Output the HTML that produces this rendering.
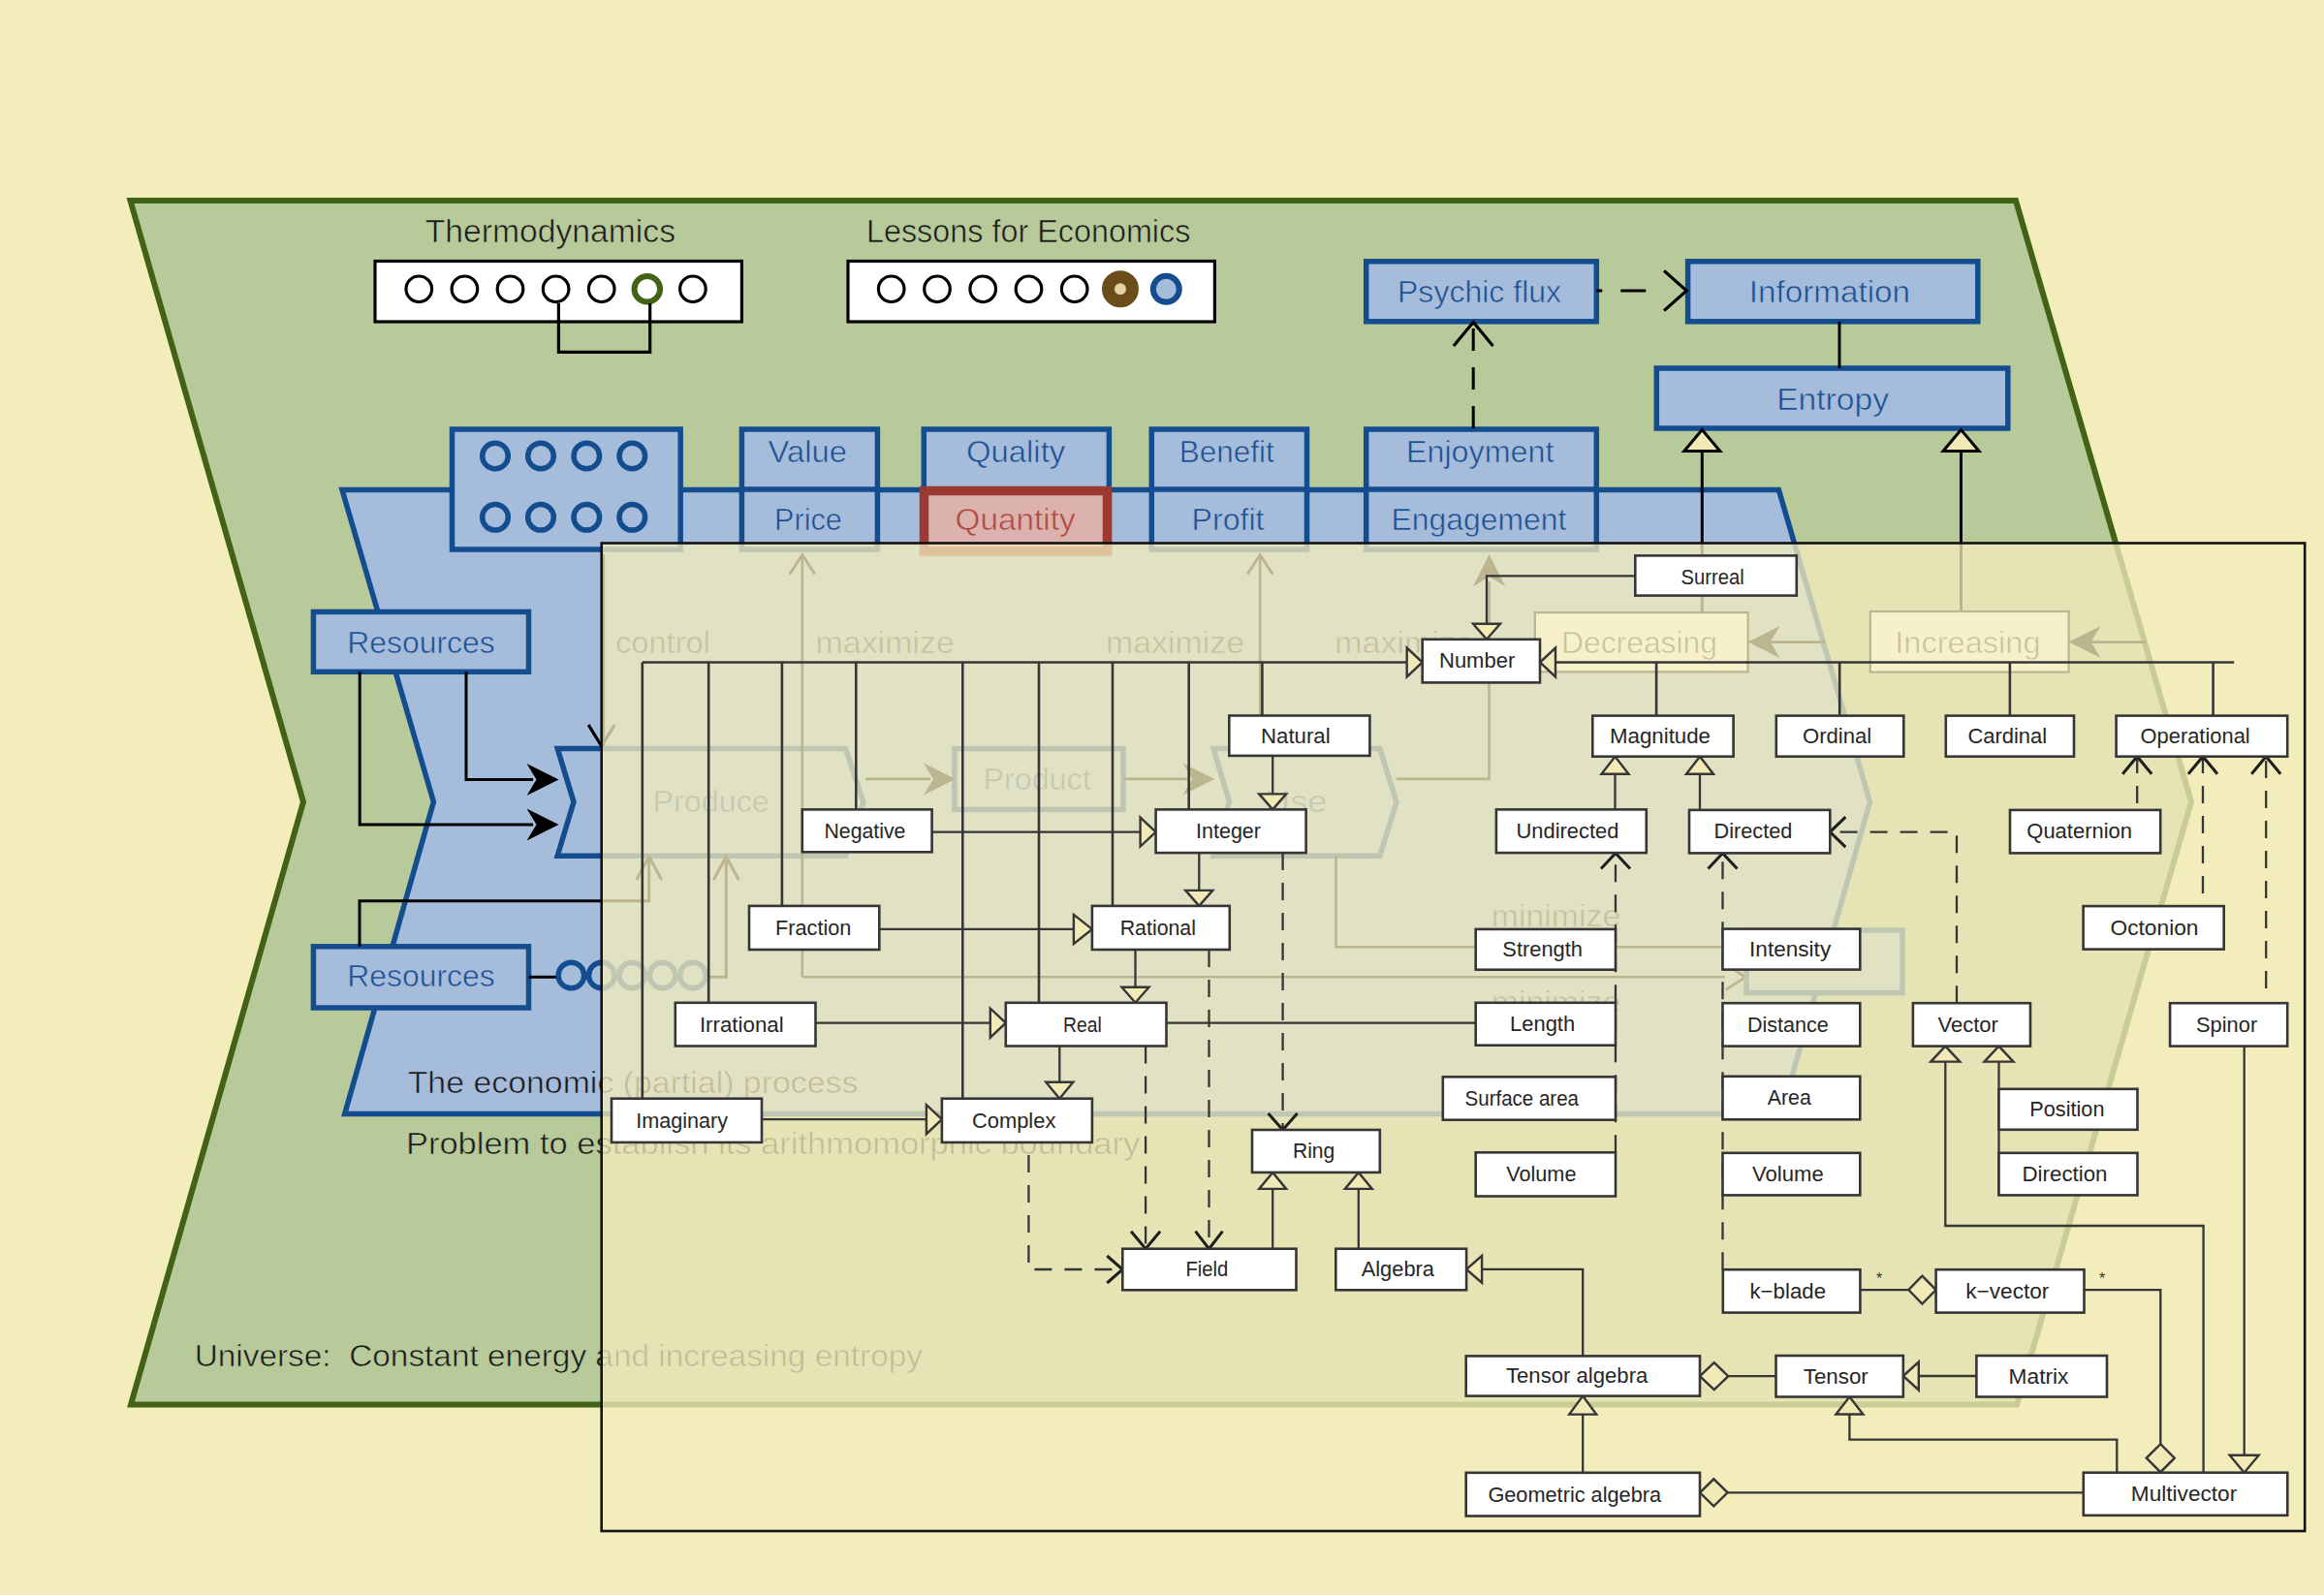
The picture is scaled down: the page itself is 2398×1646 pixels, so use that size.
<!DOCTYPE html><html><head><meta charset="utf-8"><style>html,body{margin:0;padding:0;background:#f3ecbb;overflow:hidden;width:2398px;height:1646px;}svg{display:block;}</style></head><body>
<svg width="2398" height="1646" viewBox="0 0 2398 1646" font-family='"Liberation Sans", sans-serif'>
<g>
<rect x="0" y="0" width="2398" height="1646" fill="#f3ecbb"/>
<polygon points="134.5,207 2080,207 2261,827.6 2081,1449.5 135,1449.5 313,827.6" fill="#b9ca9a" stroke="#426316" stroke-width="6" stroke-linejoin="miter"/>
<text x="438.7" y="249.7" font-size="33.5" fill="#1a1a1a" stroke="#b9ca9a" stroke-width="0.6" textLength="258.3" lengthAdjust="spacingAndGlyphs" >Thermodynamics</text>
<text x="893.9" y="249.7" font-size="33.5" fill="#1a1a1a" stroke="#b9ca9a" stroke-width="0.6" textLength="334.5" lengthAdjust="spacingAndGlyphs" >Lessons for Economics</text>
<rect x="387" y="269.5" width="378.4" height="62.5" fill="#fff" stroke="#000" stroke-width="3.2" />
<rect x="875" y="269.5" width="378.4" height="62.5" fill="#fff" stroke="#000" stroke-width="3.2" />
<circle cx="432.3" cy="298.3" r="13.3" fill="none" stroke="#000" stroke-width="3.2"/>
<circle cx="479.4" cy="298.3" r="13.3" fill="none" stroke="#000" stroke-width="3.2"/>
<circle cx="526.5" cy="298.3" r="13.3" fill="none" stroke="#000" stroke-width="3.2"/>
<circle cx="573.6" cy="298.3" r="13.3" fill="none" stroke="#000" stroke-width="3.2"/>
<circle cx="620.7" cy="298.3" r="13.3" fill="none" stroke="#000" stroke-width="3.2"/>
<circle cx="667.8" cy="298.3" r="13.3" fill="none" stroke="#426316" stroke-width="6"/>
<circle cx="714.9" cy="298.3" r="13.3" fill="none" stroke="#000" stroke-width="3.2"/>
<circle cx="919.7" cy="298.3" r="13.3" fill="none" stroke="#000" stroke-width="3.2"/>
<circle cx="967" cy="298.3" r="13.3" fill="none" stroke="#000" stroke-width="3.2"/>
<circle cx="1014.2" cy="298.3" r="13.3" fill="none" stroke="#000" stroke-width="3.2"/>
<circle cx="1061.5" cy="298.3" r="13.3" fill="none" stroke="#000" stroke-width="3.2"/>
<circle cx="1108.7" cy="298.3" r="13.3" fill="none" stroke="#000" stroke-width="3.2"/>
<circle cx="1156" cy="298.3" r="12.5" fill="#e3d3a3" stroke="#6a4d19" stroke-width="13"/>
<circle cx="1203.3" cy="298.3" r="13.5" fill="#a6bcdb" stroke="#134c8f" stroke-width="6"/>
<path d="M576.4 313 L576.4 363.4 L670.7 363.4 L670.7 313" fill="none" stroke="#000" stroke-width="3.2" />
<polygon points="353,505.5 1835.4,505.5 1929.5,827.6 1838,1149.5 355.7,1149.5 447.4,827.6" fill="#a6bcdb" stroke="#134c8f" stroke-width="5.5" stroke-linejoin="miter"/>
<text x="420.7" y="1127.5" font-size="32" fill="#1a1a1a" stroke="#a6bcdb" stroke-width="0.6" textLength="464.7" lengthAdjust="spacingAndGlyphs" >The economic (partial) process</text>
<text x="418.9" y="1190.5" font-size="32" fill="#1a1a1a" stroke="#b9ca9a" stroke-width="0.6" textLength="757.4" lengthAdjust="spacingAndGlyphs" >Problem to establish its arithmomorphic boundary</text>
<text x="200.7" y="1410.2" font-size="32" fill="#1a1a1a" stroke="#b9ca9a" stroke-width="0.6" textLength="751.3" lengthAdjust="spacingAndGlyphs" >Universe:&#160; Constant energy and increasing entropy</text>
<rect x="466.5" y="443" width="235.7" height="124" fill="#a6bcdb" stroke="#134c8f" stroke-width="5.5" />
<circle cx="511" cy="470.5" r="13.3" fill="none" stroke="#134c8f" stroke-width="5.5"/>
<circle cx="511" cy="533.8" r="13.3" fill="none" stroke="#134c8f" stroke-width="5.5"/>
<circle cx="558" cy="470.5" r="13.3" fill="none" stroke="#134c8f" stroke-width="5.5"/>
<circle cx="558" cy="533.8" r="13.3" fill="none" stroke="#134c8f" stroke-width="5.5"/>
<circle cx="605.3" cy="470.5" r="13.3" fill="none" stroke="#134c8f" stroke-width="5.5"/>
<circle cx="605.3" cy="533.8" r="13.3" fill="none" stroke="#134c8f" stroke-width="5.5"/>
<circle cx="652.3" cy="470.5" r="13.3" fill="none" stroke="#134c8f" stroke-width="5.5"/>
<circle cx="652.3" cy="533.8" r="13.3" fill="none" stroke="#134c8f" stroke-width="5.5"/>
<rect x="765.4" y="443" width="140" height="124" fill="#a6bcdb" stroke="#134c8f" stroke-width="5.5" />
<path d="M765.4 505 L905.4 505" fill="none" stroke="#134c8f" stroke-width="5.5" />
<text x="792.6" y="477" font-size="31.5" fill="#1a4f91" stroke="#a6bcdb" stroke-width="0.6" textLength="81.4" lengthAdjust="spacingAndGlyphs" >Value</text>
<text x="799" y="546.7" font-size="31.5" fill="#1a4f91" stroke="#a6bcdb" stroke-width="0.6" textLength="69.8" lengthAdjust="spacingAndGlyphs" >Price</text>
<rect x="953.3" y="443" width="191.1" height="124" fill="#a6bcdb" stroke="#134c8f" stroke-width="5.5" />
<path d="M953.3 505 L1144.4 505" fill="none" stroke="#134c8f" stroke-width="5.5" />
<text x="997" y="477" font-size="31.5" fill="#1a4f91" stroke="#a6bcdb" stroke-width="0.6" textLength="102.2" lengthAdjust="spacingAndGlyphs" >Quality</text>
<rect x="953.5" y="506.5" width="189" height="62.5" fill="#dcb2ae" stroke="#9b3a31" stroke-width="9.5" />
<text x="985.6" y="546.7" font-size="31.5" fill="#b0473d" stroke="#dcb2ae" stroke-width="0.6" textLength="124" lengthAdjust="spacingAndGlyphs" >Quantity</text>
<rect x="1188.3" y="443" width="160.2" height="124" fill="#a6bcdb" stroke="#134c8f" stroke-width="5.5" />
<path d="M1188.3 505 L1348.5 505" fill="none" stroke="#134c8f" stroke-width="5.5" />
<text x="1216.7" y="477" font-size="31.5" fill="#1a4f91" stroke="#a6bcdb" stroke-width="0.6" textLength="98.2" lengthAdjust="spacingAndGlyphs" >Benefit</text>
<text x="1229.6" y="546.7" font-size="31.5" fill="#1a4f91" stroke="#a6bcdb" stroke-width="0.6" textLength="74.9" lengthAdjust="spacingAndGlyphs" >Profit</text>
<rect x="1409.7" y="443" width="237.6" height="124" fill="#a6bcdb" stroke="#134c8f" stroke-width="5.5" />
<path d="M1409.7 505 L1647.3 505" fill="none" stroke="#134c8f" stroke-width="5.5" />
<text x="1451" y="477" font-size="31.5" fill="#1a4f91" stroke="#a6bcdb" stroke-width="0.6" textLength="152.4" lengthAdjust="spacingAndGlyphs" >Enjoyment</text>
<text x="1435.5" y="546.7" font-size="31.5" fill="#1a4f91" stroke="#a6bcdb" stroke-width="0.6" textLength="180.8" lengthAdjust="spacingAndGlyphs" >Engagement</text>
<rect x="1409.7" y="269.8" width="237.6" height="62" fill="#a6bcdb" stroke="#134c8f" stroke-width="5.5" />
<text x="1442" y="311.7" font-size="31.5" fill="#1a4f91" stroke="#a6bcdb" stroke-width="0.6" textLength="169.1" lengthAdjust="spacingAndGlyphs" >Psychic flux</text>
<rect x="1741.6" y="269.8" width="299.2" height="62" fill="#a6bcdb" stroke="#134c8f" stroke-width="5.5" />
<text x="1804.8" y="311.7" font-size="31.5" fill="#1a4f91" stroke="#a6bcdb" stroke-width="0.6" textLength="166.2" lengthAdjust="spacingAndGlyphs" >Information</text>
<rect x="1709.3" y="380" width="362.5" height="62" fill="#a6bcdb" stroke="#134c8f" stroke-width="5.5" />
<text x="1833.2" y="422.8" font-size="31.5" fill="#1a4f91" stroke="#a6bcdb" stroke-width="0.6" textLength="115.8" lengthAdjust="spacingAndGlyphs" >Entropy</text>
<path d="M1647.3 300 L1738 300" fill="none" stroke="#000" stroke-width="3" stroke-dasharray="6 19 26 200" />
<path d="M1717 279.4 L1740.3 300 L1717 320.6" fill="none" stroke="#000" stroke-width="3.2" />
<path d="M1520.2 442 L1520.2 334" fill="none" stroke="#000" stroke-width="3" stroke-dasharray="23 17" />
<path d="M1499.9 357 L1520.2 332.5 L1540.5 357" fill="none" stroke="#000" stroke-width="3.2" />
<path d="M1898 331.8 L1898 380" fill="none" stroke="#000" stroke-width="3" />
<path d="M1756.3 465.4 L1756.3 640" fill="none" stroke="#000" stroke-width="3" />
<polygon points="1756.3,443.5 1737.8,465.5 1774.8,465.5" fill="#f1e9b6" stroke="#000" stroke-width="3" stroke-linejoin="miter"/>
<path d="M2023.5 465.4 L2023.5 640" fill="none" stroke="#000" stroke-width="3" />
<polygon points="2023.5,443.5 2005,465.5 2042,465.5" fill="#f1e9b6" stroke="#000" stroke-width="3" stroke-linejoin="miter"/>
<rect x="323.4" y="631.4" width="222.1" height="61.9" fill="#a6bcdb" stroke="#134c8f" stroke-width="5.5" />
<text x="358.3" y="674" font-size="31.5" fill="#1a4f91" stroke="#a6bcdb" stroke-width="0.6" textLength="152.3" lengthAdjust="spacingAndGlyphs" >Resources</text>
<rect x="323.4" y="976.8" width="222.1" height="63.2" fill="#a6bcdb" stroke="#134c8f" stroke-width="5.5" />
<text x="358.3" y="1017.6" font-size="31.5" fill="#1a4f91" stroke="#a6bcdb" stroke-width="0.6" textLength="152.3" lengthAdjust="spacingAndGlyphs" >Resources</text>
<polygon points="575.2,772.4 872.5,772.4 891,827.6 872.5,883.2 575.2,883.2 592,827.6" fill="#a6bcdb" stroke="#134c8f" stroke-width="5.5" />
<text x="673.6" y="838" font-size="31.5" fill="#1a4f91" stroke="#a6bcdb" stroke-width="0.6" textLength="120.1" lengthAdjust="spacingAndGlyphs" >Produce</text>
<rect x="984.8" y="772.6" width="174.3" height="62.8" fill="#a6bcdb" stroke="#134c8f" stroke-width="5.5" />
<text x="1014.5" y="814.7" font-size="31.5" fill="#1a4f91" stroke="#a6bcdb" stroke-width="0.6" textLength="111.1" lengthAdjust="spacingAndGlyphs" >Product</text>
<polygon points="1252,772.4 1423.8,772.4 1441,827.6 1423.8,883.2 1252,883.2 1268.5,827.6" fill="#a6bcdb" stroke="#134c8f" stroke-width="5.5" />
<text x="1305" y="838" font-size="31.5" fill="#1a4f91" stroke="#a6bcdb" stroke-width="0.6" textLength="64.5" lengthAdjust="spacingAndGlyphs" >Use</text>
<path d="M371.2 693.3 L371.2 850.9 L550 850.9" fill="none" stroke="#000" stroke-width="3" />
<polygon points="576.5,850.9 543.5,834.4 553.5,850.9 543.5,867.4" fill="#000" stroke="none" stroke-width="0" />
<path d="M481 693.3 L481 804.4 L550 804.4" fill="none" stroke="#000" stroke-width="3" />
<polygon points="576.5,804.4 543.5,787.9 553.5,804.4 543.5,820.9" fill="#000" stroke="none" stroke-width="0" />
<path d="M371 976.8 L371 929.8 L669.7 929.8 L669.7 886" fill="none" stroke="#000" stroke-width="3" />
<path d="M656.7 908 L669.7 884 L682.7 908" fill="none" stroke="#000" stroke-width="3" />
<path d="M545.5 1008.3 L574 1008.3" fill="none" stroke="#000" stroke-width="3" />
<circle cx="589.4" cy="1006.5" r="13.3" fill="none" stroke="#134c8f" stroke-width="5.5"/>
<circle cx="620.8" cy="1006.5" r="13.3" fill="none" stroke="#134c8f" stroke-width="5.5"/>
<circle cx="652.2" cy="1006.5" r="13.3" fill="none" stroke="#134c8f" stroke-width="5.5"/>
<circle cx="683.6" cy="1006.5" r="13.3" fill="none" stroke="#134c8f" stroke-width="5.5"/>
<circle cx="715" cy="1006.5" r="13.3" fill="none" stroke="#134c8f" stroke-width="5.5"/>
<path d="M731 1008.3 L749.3 1008.3 L749.3 886" fill="none" stroke="#000" stroke-width="3" />
<path d="M736.3 908 L749.3 884 L762.3 908" fill="none" stroke="#000" stroke-width="3" />
<path d="M623 572 L623 770" fill="none" stroke="#000" stroke-width="2.2" />
<path d="M607.2 748 L620.7 770 L634.2 748" fill="none" stroke="#000" stroke-width="3.2" />
<path d="M827.8 1008.3 L827.8 575" fill="none" stroke="#000" stroke-width="2.6" />
<path d="M814.8 592.5 L827.8 572.5 L840.8 592.5" fill="none" stroke="#000" stroke-width="2.8" />
<path d="M827.8 1008.3 L1780 1008.3" fill="none" stroke="#000" stroke-width="2.6" />
<path d="M1781 995.3 L1801 1008.3 L1781 1021.3" fill="none" stroke="#000" stroke-width="2.8" />
<path d="M1300.2 772.4 L1300.2 575" fill="none" stroke="#000" stroke-width="2.6" />
<path d="M1287.2 592.5 L1300.2 572.5 L1313.2 592.5" fill="none" stroke="#000" stroke-width="2.8" />
<path d="M893 803.9 L960 803.9" fill="none" stroke="#000" stroke-width="2.6" />
<polygon points="986,803.9 953,787.4 963,803.9 953,820.4" fill="#000" stroke="none" stroke-width="0" />
<path d="M1159.1 803.9 L1225 803.9" fill="none" stroke="#000" stroke-width="2.6" />
<polygon points="1253.3,803.9 1220.3,787.4 1230.3,803.9 1220.3,820.4" fill="#000" stroke="none" stroke-width="0" />
<path d="M1440.5 803.9 L1536.6 803.9 L1536.6 600" fill="none" stroke="#000" stroke-width="2.6" />
<polygon points="1536.6,572 1520.1,605 1536.6,595 1553.1,605" fill="#000" stroke="none" stroke-width="0" />
<path d="M1378.5 883.2 L1378.5 977.3 L1802 977.3" fill="none" stroke="#000" stroke-width="2.6" />
<rect x="1802" y="960" width="161" height="64.6" fill="#a6bcdb" stroke="#134c8f" stroke-width="5.5" />
<text x="1538.8" y="955.7" font-size="31.5" fill="#303030" stroke="#a6bcdb" stroke-width="0.6" textLength="133.4" lengthAdjust="spacingAndGlyphs" >minimize</text>
<text x="1538.8" y="1044.6" font-size="31.5" fill="#303030" stroke="#a6bcdb" stroke-width="0.6" textLength="133.4" lengthAdjust="spacingAndGlyphs" >minimize</text>
<text x="634.9" y="674" font-size="31.5" fill="#303030" stroke="#a6bcdb" stroke-width="0.6" textLength="98.1" lengthAdjust="spacingAndGlyphs" >control</text>
<text x="841.5" y="674" font-size="31.5" fill="#303030" stroke="#a6bcdb" stroke-width="0.6" textLength="143.3" lengthAdjust="spacingAndGlyphs" >maximize</text>
<text x="1141" y="674" font-size="31.5" fill="#303030" stroke="#a6bcdb" stroke-width="0.6" textLength="143" lengthAdjust="spacingAndGlyphs" >maximize</text>
<text x="1377.3" y="674" font-size="31.5" fill="#303030" stroke="#a6bcdb" stroke-width="0.6" textLength="143.3" lengthAdjust="spacingAndGlyphs" >maximize</text>
<rect x="1583.9" y="632.1" width="219.7" height="61.2" fill="#fff" stroke="#000" stroke-width="2.2" />
<text x="1611" y="674" font-size="31.5" fill="#303030" stroke="#fff" stroke-width="0.6" textLength="161" lengthAdjust="spacingAndGlyphs" >Decreasing</text>
<rect x="1929.8" y="631" width="204.8" height="62.6" fill="#fff" stroke="#000" stroke-width="2.2" />
<text x="1955.3" y="674" font-size="31.5" fill="#303030" stroke="#fff" stroke-width="0.6" textLength="150.2" lengthAdjust="spacingAndGlyphs" >Increasing</text>
<path d="M1826 662.6 L1883 662.6" fill="none" stroke="#000" stroke-width="2.6" />
<polygon points="1803.6,662.6 1836.6,646.1 1826.6,662.6 1836.6,679.1" fill="#000" stroke="none" stroke-width="0" />
<path d="M2157 662.6 L2213.6 662.6" fill="none" stroke="#000" stroke-width="2.6" />
<polygon points="2134.6,662.6 2167.6,646.1 2157.6,662.6 2167.6,679.1" fill="#000" stroke="none" stroke-width="0" />
<rect x="620.7" y="560.5" width="1757.5" height="1019.5" fill="#f3ecbb" fill-opacity="0.77" stroke="#111" stroke-width="2.6"/>
<path d="M662.8 683.5 L1452.2 683.5" fill="none" stroke="#363636" stroke-width="2.6" />
<path d="M1605 683.5 L2305.2 683.5" fill="none" stroke="#363636" stroke-width="2.6" />
<path d="M662.8 683.5 L662.8 1133.7" fill="none" stroke="#363636" stroke-width="2.6" />
<path d="M731.2 683.5 L731.2 1034.8" fill="none" stroke="#363636" stroke-width="2.6" />
<path d="M806.9 683.5 L806.9 934.9" fill="none" stroke="#363636" stroke-width="2.6" />
<path d="M883.3 683.5 L883.3 835.4" fill="none" stroke="#363636" stroke-width="2.6" />
<path d="M993.3 683.5 L993.3 1133.7" fill="none" stroke="#363636" stroke-width="2.6" />
<path d="M1072 683.5 L1072 1034.8" fill="none" stroke="#363636" stroke-width="2.6" />
<path d="M1148 683.5 L1148 934.9" fill="none" stroke="#363636" stroke-width="2.6" />
<path d="M1226.7 683.5 L1226.7 835.4" fill="none" stroke="#363636" stroke-width="2.6" />
<path d="M1302.4 683.5 L1302.4 738.5" fill="none" stroke="#363636" stroke-width="2.6" />
<path d="M1709.1 683.5 L1709.1 738.6" fill="none" stroke="#363636" stroke-width="2.6" />
<path d="M1898.2 683.5 L1898.2 738.6" fill="none" stroke="#363636" stroke-width="2.6" />
<path d="M2073.9 683.5 L2073.9 738.6" fill="none" stroke="#363636" stroke-width="2.6" />
<path d="M2283.6 683.5 L2283.6 738.6" fill="none" stroke="#363636" stroke-width="2.6" />
<path d="M1687.3 594.4 L1534 594.4 L1534 644" fill="none" stroke="#363636" stroke-width="2.3" />
<polygon points="1534,659.8 1520,643.8 1548,643.8" fill="#f1e9b6" stroke="#363636" stroke-width="2.4" stroke-linejoin="miter"/>
<polygon points="1467.7,683.5 1451.7,668.5 1451.7,698.5" fill="#f1e9b6" stroke="#363636" stroke-width="2.4" stroke-linejoin="miter"/>
<polygon points="1589,683.5 1605,668.5 1605,698.5" fill="#f1e9b6" stroke="#363636" stroke-width="2.4" stroke-linejoin="miter"/>
<path d="M1313.2 779.9 L1313.2 820" fill="none" stroke="#363636" stroke-width="2.3" />
<polygon points="1313.2,835.4 1299.2,819.4 1327.2,819.4" fill="#f1e9b6" stroke="#363636" stroke-width="2.4" stroke-linejoin="miter"/>
<path d="M961.6 858.6 L1177 858.6" fill="none" stroke="#363636" stroke-width="2.3" />
<polygon points="1192.6,858.6 1176.6,843.6 1176.6,873.6" fill="#f1e9b6" stroke="#363636" stroke-width="2.4" stroke-linejoin="miter"/>
<path d="M1237.3 880.1 L1237.3 919" fill="none" stroke="#363636" stroke-width="2.3" />
<polygon points="1237.3,934.9 1223.3,918.9 1251.3,918.9" fill="#f1e9b6" stroke="#363636" stroke-width="2.4" stroke-linejoin="miter"/>
<path d="M907.3 958.9 L1108 958.9" fill="none" stroke="#363636" stroke-width="2.3" />
<polygon points="1126.9,958.9 1107.9,943.9 1107.9,973.9" fill="#f1e9b6" stroke="#363636" stroke-width="2.4" stroke-linejoin="miter"/>
<path d="M1171.5 980 L1171.5 1019" fill="none" stroke="#363636" stroke-width="2.3" />
<polygon points="1171.5,1034.8 1157.5,1018.8 1185.5,1018.8" fill="#f1e9b6" stroke="#363636" stroke-width="2.4" stroke-linejoin="miter"/>
<path d="M841.5 1055.7 L1021.5 1055.7" fill="none" stroke="#363636" stroke-width="2.3" />
<polygon points="1037.8,1055.7 1021.8,1040.7 1021.8,1070.7" fill="#f1e9b6" stroke="#363636" stroke-width="2.4" stroke-linejoin="miter"/>
<path d="M1093.3 1079.5 L1093.3 1116.4" fill="none" stroke="#363636" stroke-width="2.3" />
<polygon points="1093.3,1133.7 1079.3,1116.7 1107.3,1116.7" fill="#f1e9b6" stroke="#363636" stroke-width="2.4" stroke-linejoin="miter"/>
<path d="M786 1155.2 L956.4 1155.2" fill="none" stroke="#363636" stroke-width="2.3" />
<polygon points="971.9,1155.2 955.9,1140.2 955.9,1170.2" fill="#f1e9b6" stroke="#363636" stroke-width="2.4" stroke-linejoin="miter"/>
<path d="M1203.5 1055.7 L1522.7 1055.7" fill="none" stroke="#363636" stroke-width="2.3" />
<path d="M1313.2 1288.7 L1313.2 1226.7" fill="none" stroke="#363636" stroke-width="2.3" />
<polygon points="1313.2,1209.9 1299.2,1226.9 1327.2,1226.9" fill="#f1e9b6" stroke="#363636" stroke-width="2.4" stroke-linejoin="miter"/>
<path d="M1401.8 1288.7 L1401.8 1226.7" fill="none" stroke="#363636" stroke-width="2.3" />
<polygon points="1401.8,1209.9 1387.8,1226.9 1415.8,1226.9" fill="#f1e9b6" stroke="#363636" stroke-width="2.4" stroke-linejoin="miter"/>
<path d="M1666.5 835.4 L1666.5 798.4" fill="none" stroke="#363636" stroke-width="2.3" />
<polygon points="1666.5,780.7 1652.5,798.7 1680.5,798.7" fill="#f1e9b6" stroke="#363636" stroke-width="2.4" stroke-linejoin="miter"/>
<path d="M1754 835.9 L1754 798.7" fill="none" stroke="#363636" stroke-width="2.3" />
<polygon points="1754,780.7 1740,798.7 1768,798.7" fill="#f1e9b6" stroke="#363636" stroke-width="2.4" stroke-linejoin="miter"/>
<path d="M2007.3 1095.2 L2007.3 1265 L2273.6 1265 L2273.6 1519.7" fill="none" stroke="#363636" stroke-width="2.3" />
<polygon points="2007.3,1079.6 1992.3,1095.6 2022.3,1095.6" fill="#f1e9b6" stroke="#363636" stroke-width="2.4" stroke-linejoin="miter"/>
<path d="M2062.5 1095.2 L2062.5 1233.4" fill="none" stroke="#363636" stroke-width="2.3" />
<polygon points="2062.5,1079.6 2047.5,1095.6 2077.5,1095.6" fill="#f1e9b6" stroke="#363636" stroke-width="2.4" stroke-linejoin="miter"/>
<path d="M2315.7 1079.6 L2315.7 1501" fill="none" stroke="#363636" stroke-width="2.3" />
<polygon points="2315.7,1519.7 2300.7,1501.7 2330.7,1501.7" fill="#f1e9b6" stroke="#363636" stroke-width="2.4" stroke-linejoin="miter"/>
<path d="M1919.4 1331.1 L1969.3 1331.1" fill="none" stroke="#363636" stroke-width="2.3" />
<polygon points="1969.3,1331.1 1983.4,1316.6 1997.6,1331.1 1983.4,1345.6" fill="#f1e9b6" stroke="#363636" stroke-width="2.4" />
<path d="M2150.5 1331.1 L2229.3 1331.1 L2229.3 1489.8" fill="none" stroke="#363636" stroke-width="2.3" />
<polygon points="2214.8,1504.7 2229.3,1490.2 2243.8,1504.7 2229.3,1519.2" fill="#f1e9b6" stroke="#363636" stroke-width="2.4" />
<path d="M1783.3 1420.2 L1832.5 1420.2" fill="none" stroke="#363636" stroke-width="2.3" />
<polygon points="1754,1420.2 1768.7,1406.2 1783.3,1420.2 1768.7,1434.2" fill="#f1e9b6" stroke="#363636" stroke-width="2.4" />
<path d="M1979.9 1420 L2039.4 1420" fill="none" stroke="#363636" stroke-width="2.3" />
<polygon points="1963.8,1420 1979.8,1405.5 1979.8,1434.5" fill="#f1e9b6" stroke="#363636" stroke-width="2.4" stroke-linejoin="miter"/>
<path d="M1908.4 1459.8 L1908.4 1485.6 L2184.3 1485.6 L2184.3 1519.7" fill="none" stroke="#363636" stroke-width="2.3" />
<polygon points="1908.4,1441.5 1894.4,1459.5 1922.4,1459.5" fill="#f1e9b6" stroke="#363636" stroke-width="2.4" stroke-linejoin="miter"/>
<path d="M1782.6 1540.3 L2149.8 1540.3" fill="none" stroke="#363636" stroke-width="2.3" />
<polygon points="1754,1540.3 1768.3,1526.3 1782.6,1540.3 1768.3,1554.3" fill="#f1e9b6" stroke="#363636" stroke-width="2.4" />
<path d="M1633.2 1519.8 L1633.2 1459.5" fill="none" stroke="#363636" stroke-width="2.3" />
<polygon points="1633.2,1440.6 1619.2,1459.6 1647.2,1459.6" fill="#f1e9b6" stroke="#363636" stroke-width="2.4" stroke-linejoin="miter"/>
<path d="M1529.1 1309.9 L1633.2 1309.9 L1633.2 1399.2" fill="none" stroke="#363636" stroke-width="2.3" />
<polygon points="1513.1,1309.9 1529.1,1295.9 1529.1,1323.9" fill="#f1e9b6" stroke="#363636" stroke-width="2.4" stroke-linejoin="miter"/>
<text x="1936" y="1325" font-size="16" fill="#363636">*</text>
<text x="2166" y="1325" font-size="16" fill="#363636">*</text>
<path d="M1323.6 880.1 L1323.6 1164" fill="none" stroke="#363636" stroke-width="2.3" stroke-dasharray="18 13" />
<path d="M1308.6 1149 L1323.6 1166 L1338.6 1149" fill="none" stroke="#1e1e1e" stroke-width="3" />
<path d="M1182.1 1079.5 L1182.1 1286" fill="none" stroke="#363636" stroke-width="2.3" stroke-dasharray="18 13" />
<path d="M1167.1 1270.7 L1182.1 1288.7 L1197.1 1270.7" fill="none" stroke="#1e1e1e" stroke-width="3" />
<path d="M1247.5 980 L1247.5 1286" fill="none" stroke="#363636" stroke-width="2.3" stroke-dasharray="18 13" />
<path d="M1233.5 1270.7 L1247.5 1288.7 L1261.5 1270.7" fill="none" stroke="#1e1e1e" stroke-width="3" />
<path d="M1061.4 1192 L1061.4 1310 L1156 1310" fill="none" stroke="#363636" stroke-width="2.3" stroke-dasharray="18 13" />
<path d="M1142.3 1296 L1158.3 1310 L1142.3 1324" fill="none" stroke="#1e1e1e" stroke-width="3" />
<path d="M1667 1189.3 L1667 883" fill="none" stroke="#363636" stroke-width="2.3" stroke-dasharray="18 13" />
<path d="M1652 896.5 L1667 880.5 L1682 896.5" fill="none" stroke="#1e1e1e" stroke-width="3" />
<path d="M1777.5 1310.2 L1777.5 883" fill="none" stroke="#363636" stroke-width="2.3" stroke-dasharray="18 13" />
<path d="M1762.5 896.5 L1777.5 880.5 L1792.5 896.5" fill="none" stroke="#1e1e1e" stroke-width="3" />
<path d="M2019 1035.2 L2019 858.6 L1891 858.6" fill="none" stroke="#363636" stroke-width="2.3" stroke-dasharray="18 13" />
<path d="M1904.3 843.1 L1888.3 858.6 L1904.3 874.1" fill="none" stroke="#1e1e1e" stroke-width="3" />
<path d="M2205.2 829 L2205.2 783" fill="none" stroke="#363636" stroke-width="2.3" stroke-dasharray="18 13" />
<path d="M2190.2 798.7 L2205.2 780.7 L2220.2 798.7" fill="none" stroke="#1e1e1e" stroke-width="3" />
<path d="M2273 922 L2273 783" fill="none" stroke="#363636" stroke-width="2.3" stroke-dasharray="18 13" />
<path d="M2258 798.7 L2273 780.7 L2288 798.7" fill="none" stroke="#1e1e1e" stroke-width="3" />
<path d="M2338.2 1020 L2338.2 783" fill="none" stroke="#363636" stroke-width="2.3" stroke-dasharray="18 13" />
<path d="M2323.2 798.7 L2338.2 780.7 L2353.2 798.7" fill="none" stroke="#1e1e1e" stroke-width="3" />
<rect x="1687.3" y="573.4" width="166.5" height="41.2" fill="#fff" stroke="#363636" stroke-width="2.6" />
<text x="1734.5" y="603.3" font-size="21.5" fill="#262626" textLength="65.2" lengthAdjust="spacingAndGlyphs" >Surreal</text>
<rect x="1467.7" y="659.8" width="121.3" height="44.6" fill="#fff" stroke="#363636" stroke-width="2.6" />
<text x="1485" y="689.4" font-size="21.5" fill="#262626" textLength="78.2" lengthAdjust="spacingAndGlyphs" >Number</text>
<rect x="1268.3" y="738.5" width="145.1" height="41.4" fill="#fff" stroke="#363636" stroke-width="2.6" />
<text x="1301" y="766.5" font-size="21.5" fill="#262626" textLength="71.6" lengthAdjust="spacingAndGlyphs" >Natural</text>
<rect x="1643.3" y="738.6" width="145.3" height="42.1" fill="#fff" stroke="#363636" stroke-width="2.6" />
<text x="1661" y="767" font-size="21.5" fill="#262626" textLength="104" lengthAdjust="spacingAndGlyphs" >Magnitude</text>
<rect x="1832.8" y="738.6" width="131.5" height="42.1" fill="#fff" stroke="#363636" stroke-width="2.6" />
<text x="1860" y="767" font-size="21.5" fill="#262626" textLength="71.2" lengthAdjust="spacingAndGlyphs" >Ordinal</text>
<rect x="2007.8" y="738.6" width="132.2" height="42.1" fill="#fff" stroke="#363636" stroke-width="2.6" />
<text x="2030.4" y="767" font-size="21.5" fill="#262626" textLength="81.7" lengthAdjust="spacingAndGlyphs" >Cardinal</text>
<rect x="2183.6" y="738.6" width="176.6" height="42.1" fill="#fff" stroke="#363636" stroke-width="2.6" />
<text x="2208.5" y="767" font-size="21.5" fill="#262626" textLength="113.2" lengthAdjust="spacingAndGlyphs" >Operational</text>
<rect x="827.8" y="835.4" width="133.8" height="43.9" fill="#fff" stroke="#363636" stroke-width="2.6" />
<text x="850.5" y="864.6" font-size="21.5" fill="#262626" textLength="83.9" lengthAdjust="spacingAndGlyphs" >Negative</text>
<rect x="1192.6" y="835.4" width="155" height="44.7" fill="#fff" stroke="#363636" stroke-width="2.6" />
<text x="1234" y="865" font-size="21.5" fill="#262626" textLength="67" lengthAdjust="spacingAndGlyphs" >Integer</text>
<rect x="1543.9" y="835.4" width="154.9" height="44.7" fill="#fff" stroke="#363636" stroke-width="2.6" />
<text x="1564.5" y="865" font-size="21.5" fill="#262626" textLength="105.9" lengthAdjust="spacingAndGlyphs" >Undirected</text>
<rect x="1743" y="835.9" width="145.3" height="44.5" fill="#fff" stroke="#363636" stroke-width="2.6" />
<text x="1768.5" y="865.4" font-size="21.5" fill="#262626" textLength="80.8" lengthAdjust="spacingAndGlyphs" >Directed</text>
<rect x="2074" y="835.9" width="155.2" height="44.5" fill="#fff" stroke="#363636" stroke-width="2.6" />
<text x="2091.3" y="865.4" font-size="21.5" fill="#262626" textLength="108.7" lengthAdjust="spacingAndGlyphs" >Quaternion</text>
<rect x="773" y="934.9" width="134.3" height="45.1" fill="#fff" stroke="#363636" stroke-width="2.6" />
<text x="800" y="964.8" font-size="21.5" fill="#262626" textLength="78.4" lengthAdjust="spacingAndGlyphs" >Fraction</text>
<rect x="1126.9" y="934.9" width="141.9" height="45.1" fill="#fff" stroke="#363636" stroke-width="2.6" />
<text x="1155.7" y="964.8" font-size="21.5" fill="#262626" textLength="78.3" lengthAdjust="spacingAndGlyphs" >Rational</text>
<rect x="1522.7" y="958.9" width="144.3" height="41.8" fill="#fff" stroke="#363636" stroke-width="2.6" />
<text x="1550.3" y="987.1" font-size="21.5" fill="#262626" textLength="82.7" lengthAdjust="spacingAndGlyphs" >Strength</text>
<rect x="1777.5" y="958.6" width="141.8" height="42" fill="#fff" stroke="#363636" stroke-width="2.6" />
<text x="1805.1" y="986.9" font-size="21.5" fill="#262626" textLength="84.1" lengthAdjust="spacingAndGlyphs" >Intensity</text>
<rect x="2149.6" y="935.1" width="145.1" height="44.5" fill="#fff" stroke="#363636" stroke-width="2.6" />
<text x="2177.5" y="964.6" font-size="21.5" fill="#262626" textLength="91" lengthAdjust="spacingAndGlyphs" >Octonion</text>
<rect x="696.8" y="1034.8" width="144.7" height="44.7" fill="#fff" stroke="#363636" stroke-width="2.6" />
<text x="721.9" y="1064.5" font-size="21.5" fill="#262626" textLength="86.8" lengthAdjust="spacingAndGlyphs" >Irrational</text>
<rect x="1037.8" y="1034.8" width="165.7" height="44.7" fill="#fff" stroke="#363636" stroke-width="2.6" />
<text x="1097" y="1064.5" font-size="21.5" fill="#262626" textLength="39.7" lengthAdjust="spacingAndGlyphs" >Real</text>
<rect x="1522.7" y="1034.8" width="144.3" height="43.9" fill="#fff" stroke="#363636" stroke-width="2.6" />
<text x="1558" y="1064" font-size="21.5" fill="#262626" textLength="67.2" lengthAdjust="spacingAndGlyphs" >Length</text>
<rect x="1777.5" y="1035.2" width="141.8" height="44.4" fill="#fff" stroke="#363636" stroke-width="2.6" />
<text x="1803" y="1064.7" font-size="21.5" fill="#262626" textLength="83.8" lengthAdjust="spacingAndGlyphs" >Distance</text>
<rect x="1973.9" y="1035.2" width="121.1" height="44.4" fill="#fff" stroke="#363636" stroke-width="2.6" />
<text x="1999.4" y="1064.7" font-size="21.5" fill="#262626" textLength="62.5" lengthAdjust="spacingAndGlyphs" >Vector</text>
<rect x="2239.1" y="1035.2" width="121.1" height="44.4" fill="#fff" stroke="#363636" stroke-width="2.6" />
<text x="2266" y="1064.7" font-size="21.5" fill="#262626" textLength="63.2" lengthAdjust="spacingAndGlyphs" >Spinor</text>
<rect x="1488.8" y="1111.3" width="178.2" height="44.4" fill="#fff" stroke="#363636" stroke-width="2.6" />
<text x="1511.6" y="1140.8" font-size="21.5" fill="#262626" textLength="117.4" lengthAdjust="spacingAndGlyphs" >Surface area</text>
<rect x="1777.5" y="1110.8" width="141.8" height="44.5" fill="#fff" stroke="#363636" stroke-width="2.6" />
<text x="1823.7" y="1140.3" font-size="21.5" fill="#262626" textLength="45.1" lengthAdjust="spacingAndGlyphs" >Area</text>
<rect x="2062.5" y="1123.8" width="143" height="42" fill="#fff" stroke="#363636" stroke-width="2.6" />
<text x="2094.3" y="1152.1" font-size="21.5" fill="#262626" textLength="77.2" lengthAdjust="spacingAndGlyphs" >Position</text>
<rect x="631" y="1133.7" width="155" height="45.2" fill="#fff" stroke="#363636" stroke-width="2.6" />
<text x="656.3" y="1163.6" font-size="21.5" fill="#262626" textLength="94.8" lengthAdjust="spacingAndGlyphs" >Imaginary</text>
<rect x="971.9" y="1133.7" width="155" height="45.2" fill="#fff" stroke="#363636" stroke-width="2.6" />
<text x="1002.9" y="1163.6" font-size="21.5" fill="#262626" textLength="86.5" lengthAdjust="spacingAndGlyphs" >Complex</text>
<rect x="1292" y="1166" width="131.8" height="43.9" fill="#fff" stroke="#363636" stroke-width="2.6" />
<text x="1333.9" y="1195.2" font-size="21.5" fill="#262626" textLength="43.4" lengthAdjust="spacingAndGlyphs" >Ring</text>
<rect x="1522.7" y="1189.3" width="144.3" height="45.2" fill="#fff" stroke="#363636" stroke-width="2.6" />
<text x="1554.2" y="1219.2" font-size="21.5" fill="#262626" textLength="72.3" lengthAdjust="spacingAndGlyphs" >Volume</text>
<rect x="1777.5" y="1189.8" width="141.8" height="43.6" fill="#fff" stroke="#363636" stroke-width="2.6" />
<text x="1808" y="1218.9" font-size="21.5" fill="#262626" textLength="73.7" lengthAdjust="spacingAndGlyphs" >Volume</text>
<rect x="2062.5" y="1189.8" width="143" height="43.6" fill="#fff" stroke="#363636" stroke-width="2.6" />
<text x="2086.5" y="1218.9" font-size="21.5" fill="#262626" textLength="88" lengthAdjust="spacingAndGlyphs" >Direction</text>
<rect x="1158.3" y="1288.7" width="179.2" height="42.6" fill="#fff" stroke="#363636" stroke-width="2.6" />
<text x="1223.4" y="1317.3" font-size="21.5" fill="#262626" textLength="43.9" lengthAdjust="spacingAndGlyphs" >Field</text>
<rect x="1378.3" y="1288.7" width="134.8" height="42.6" fill="#fff" stroke="#363636" stroke-width="2.6" />
<text x="1404.7" y="1317.3" font-size="21.5" fill="#262626" textLength="75.3" lengthAdjust="spacingAndGlyphs" >Algebra</text>
<rect x="1777.8" y="1310.2" width="141.6" height="44.4" fill="#fff" stroke="#363636" stroke-width="2.6" />
<text x="1805.5" y="1339.7" font-size="21.5" fill="#262626" textLength="78.5" lengthAdjust="spacingAndGlyphs" >k−blade</text>
<rect x="1997.6" y="1310.2" width="152.9" height="44.4" fill="#fff" stroke="#363636" stroke-width="2.6" />
<text x="2028.2" y="1339.7" font-size="21.5" fill="#262626" textLength="86.2" lengthAdjust="spacingAndGlyphs" >k−vector</text>
<rect x="1512.7" y="1399.4" width="241.3" height="41.2" fill="#fff" stroke="#363636" stroke-width="2.6" />
<text x="1554" y="1427.3" font-size="21.5" fill="#262626" textLength="146.3" lengthAdjust="spacingAndGlyphs" >Tensor algebra</text>
<rect x="1832.5" y="1399" width="131.3" height="42.5" fill="#fff" stroke="#363636" stroke-width="2.6" />
<text x="1860.8" y="1427.5" font-size="21.5" fill="#262626" textLength="67" lengthAdjust="spacingAndGlyphs" >Tensor</text>
<rect x="2039.4" y="1399" width="134.6" height="42.5" fill="#fff" stroke="#363636" stroke-width="2.6" />
<text x="2072.6" y="1427.5" font-size="21.5" fill="#262626" textLength="61.8" lengthAdjust="spacingAndGlyphs" >Matrix</text>
<rect x="1512.7" y="1519.8" width="241.3" height="44.7" fill="#fff" stroke="#363636" stroke-width="2.6" />
<text x="1535.4" y="1549.5" font-size="21.5" fill="#262626" textLength="178.7" lengthAdjust="spacingAndGlyphs" >Geometric algebra</text>
<rect x="2149.8" y="1519.7" width="210.5" height="44.1" fill="#fff" stroke="#363636" stroke-width="2.6" />
<text x="2198.8" y="1549" font-size="21.5" fill="#262626" textLength="109.4" lengthAdjust="spacingAndGlyphs" >Multivector</text>
</g>
</svg></body></html>
